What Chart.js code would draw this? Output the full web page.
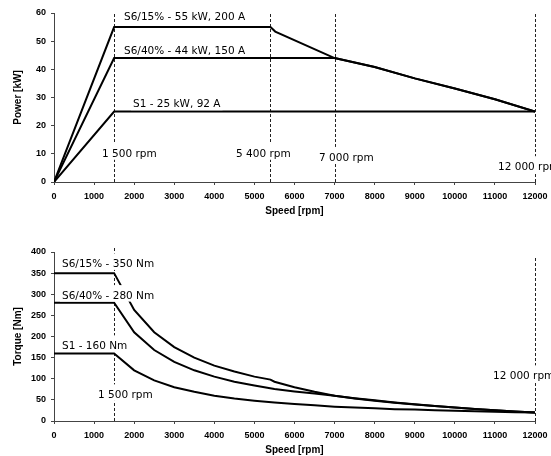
<!DOCTYPE html>
<html>
<head>
<meta charset="utf-8">
<script src="https://cdn.jsdelivr.net/npm/chart.js@4.4.1/dist/chart.umd.min.js"></script>
<style>
  html, body { margin:0; padding:0; background:#fff; overflow:hidden; width:551px; height:456px; }
  .box { position:absolute; left:0; width:551px; height:240px; }
  #b1 { top:0; }
  #b2 { top:239px; }
</style>
</head>
<body>
<div class="box" id="b1"><canvas id="c1"></canvas></div>
<div class="box" id="b2"><canvas id="c2"></canvas></div>
<script>
// ---------- Power chart data ----------
const s1PowerSpeed   = [0, 1500, 12000];
const s1Power        = [0, 25, 25];
const s640PowerSpeed = [0, 1500, 7000, 8000, 9000, 10000, 11000, 12000];
const s640Power      = [0, 44, 44, 40.8, 36.8, 33.2, 29.4, 25];
const s615PowerSpeed = [0, 1500, 5400, 5520, 7000, 8000, 9000, 10000, 11000, 12000];
const s615Power      = [0, 55, 55, 53.4, 44, 40.8, 36.8, 33.2, 29.4, 25];

// ---------- Torque chart data ----------
const torqueSpeed = [0, 1500, 2000, 2500, 3000, 3500, 4000, 4500, 5000, 5500, 6000, 6500, 7000, 7500, 8000, 8500, 9000, 9500, 10000, 10500, 11000, 11500, 12000];
const s1Torque    = [160, 160, 120, 96, 80, 69, 60, 53, 48, 44, 40, 37, 34, 32, 30, 28, 27, 25.5, 24, 23, 22, 21, 20];
const s640Torque  = [280, 280, 210, 168, 140, 120, 105, 93, 84, 76, 70, 65, 60, 53.5, 48, 43, 39, 35.5, 32, 28.5, 25.5, 22.5, 20];
const s615TorqueSpeed = [0, 1500, 2000, 2500, 3000, 3500, 4000, 4500, 5000, 5400, 5500, 6000, 6500, 7000, 7500, 8000, 8500, 9000, 9500, 10000, 10500, 11000, 11500, 12000];
const s615Torque      = [350, 350, 263, 210, 175, 150, 131, 117, 105, 98, 93, 80, 69, 60, 54, 49, 44, 39.5, 35.5, 32, 28.5, 25.5, 22.5, 20];

// ---------- Axis ticks ----------
const speedTicks = { min: 0, max: 12000, step: 1000 };
const powerTicks = { min: 0, max: 60, step: 10 };
const torqueTicks = { min: 0, max: 400, step: 50 };

// ---------- Annotations ----------
const powerVLines = [ {x:1500, top:60}, {x:5400, top:60}, {x:7000, top:60}, {x:12000, top:60} ];
const powerLabels = [
  {text:'S6/15% - 55 kW, 200 A', x:1747, y:59.0},
  {text:'S6/40% - 44 kW, 150 A', x:1747, y:46.8},
  {text:'S1 - 25 kW, 92 A',      x:1971, y:27.8},
  {text:'1 500 rpm',  x:1198, y:10.2},
  {text:'5 400 rpm',  x:4541, y:10.2},
  {text:'7 000 rpm',  x:6612, y:8.9},
  {text:'12 000 rpm', x:11078, y:5.6}
];
const torqueVLines = [ {x:1500, top:414}, {x:12000, top:387} ];
const torqueLabels = [
  {text:'S6/15% - 350 Nm', x:200, y:373},
  {text:'S6/40% - 280 Nm', x:200, y:298},
  {text:'S1 - 160 Nm',     x:200, y:179},
  {text:'1 500 rpm',  x:1098, y:63},
  {text:'12 000 rpm', x:10953, y:108}
];

function pts(xs, ys){ return xs.map((v,i)=>({x:v, y:ys[i]})); }

const annotPlugin = {
  id: 'annot',
  beforeDatasetsDraw(chart, args, opts) {
    const {ctx, scales:{x, y}} = chart;
    ctx.save();
    ctx.strokeStyle = '#222';
    ctx.lineWidth = 1;
    ctx.setLineDash([3, 2]);
    for (const v of opts.vlines) {
      const px = Math.round(x.getPixelForValue(v.x)) + 0.5;
      ctx.beginPath();
      ctx.moveTo(px, y.getPixelForValue(0));
      ctx.lineTo(px, y.getPixelForValue(v.top));
      ctx.stroke();
    }
    ctx.restore();
  },
  afterDatasetsDraw(chart, args, opts) {
    const {ctx, scales:{x, y}} = chart;
    ctx.save();
    ctx.font = '10.5px "DejaVu Sans"';
    ctx.textBaseline = 'alphabetic';
    ctx.textAlign = 'left';
    for (const l of opts.labels) {
      const px = x.getPixelForValue(l.x);
      const py = y.getPixelForValue(l.y);
      const w = ctx.measureText(l.text).width;
      ctx.fillStyle = '#fff';
      ctx.fillRect(px - 2, py - 10, w + 4, 16.5);
      ctx.fillStyle = '#000';
      ctx.fillText(l.text, px, py + 3.8);
    }
    ctx.restore();
  }
};

const tickFont = { family: '"Liberation Sans", Arial, sans-serif', size: 9, weight: 'bold' };
const titleFont = { family: '"Liberation Sans", Arial, sans-serif', size: 10, weight: 'bold' };
const axisColor = '#444';

function makeChart(id, datasets, yT, yTitle, vlines, labels) {
  return new Chart(document.getElementById(id), {
    type: 'line',
    data: { datasets },
    plugins: [annotPlugin],
    options: {
      responsive: true,
      maintainAspectRatio: false,
      animation: false,
      devicePixelRatio: 1,
      layout: { padding: { top: 13, right: 16, bottom: 21, left: 0 } },
      plugins: {
        legend: { display: false },
        tooltip: { enabled: false },
        annot: { vlines, labels }
      },
      elements: { point: { radius: 0 }, line: { tension: 0 } },
      scales: {
        x: {
          type: 'linear',
          min: speedTicks.min, max: speedTicks.max,
          afterFit(s) { s.height = 37; s.paddingRight = 0; s.paddingLeft = 0; },
          ticks: { stepSize: speedTicks.step, color: '#000', font: tickFont, padding: 6, maxRotation: 0, autoSkip: false,
                   callback: (v) => String(v) },
          grid: { drawOnChartArea: false, drawTicks: true, tickLength: 3, color: axisColor },
          border: { color: axisColor, width: 1 },
          title: { display: true, text: 'Speed [rpm]', color: '#000', font: titleFont, padding: { top: 0, bottom: 2 } }
        },
        y: {
          min: yT.min, max: yT.max,
          afterFit(s) { s.width = 54; s.paddingTop = 0; s.paddingBottom = 0; },
          ticks: { stepSize: yT.step, color: '#000', font: tickFont, padding: 5, callback: (v) => String(v) },
          grid: { drawOnChartArea: false, drawTicks: true, tickLength: 3, color: axisColor },
          border: { color: axisColor, width: 1 },
          title: { display: true, text: yTitle, color: '#000', font: titleFont, padding: { top: 12, bottom: 0 } }
        }
      }
    }
  });
}

const lineStyle = { borderColor: '#000', backgroundColor: '#000', borderWidth: 2, fill: false, pointRadius: 0 };

makeChart('c1', [
  Object.assign({ label: 'S6/15%', data: pts(s615PowerSpeed, s615Power) }, lineStyle),
  Object.assign({ label: 'S6/40%', data: pts(s640PowerSpeed, s640Power) }, lineStyle),
  Object.assign({ label: 'S1',     data: pts(s1PowerSpeed, s1Power) }, lineStyle)
], powerTicks, 'Power [kW]', powerVLines, powerLabels);

makeChart('c2', [
  Object.assign({ label: 'S6/15%', data: pts(s615TorqueSpeed, s615Torque) }, lineStyle),
  Object.assign({ label: 'S6/40%', data: pts(torqueSpeed, s640Torque) }, lineStyle),
  Object.assign({ label: 'S1',     data: pts(torqueSpeed, s1Torque) }, lineStyle)
], torqueTicks, 'Torque [Nm]', torqueVLines, torqueLabels);
</script>
</body>
</html>
